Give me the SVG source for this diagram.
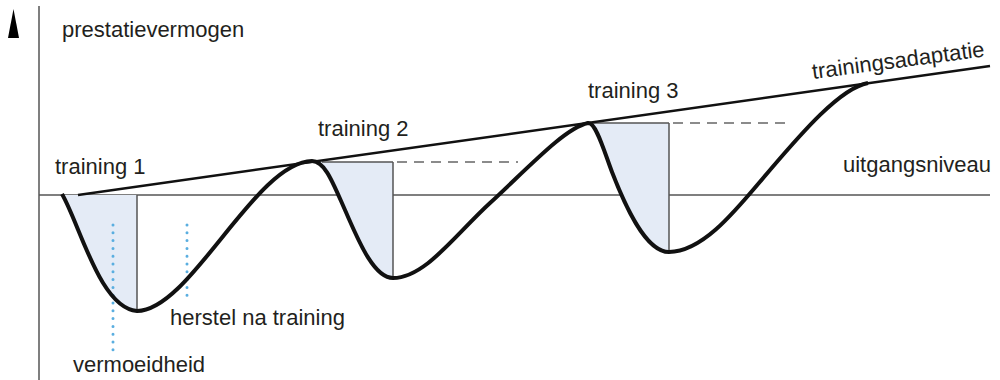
<svg xmlns="http://www.w3.org/2000/svg" width="1000" height="380" viewBox="0 0 1000 380">
<style>
text{font-family:"Liberation Sans",Arial,sans-serif;font-size:22px;fill:#231f20}
.axis{stroke:#555;stroke-width:1.5;fill:none}
.shade{fill:#e4ebf6;stroke:none}
.guide{stroke:#555;stroke-width:1.5;fill:none}
.dash{stroke:#666;stroke-width:1.5;stroke-dasharray:10 7;fill:none}
.dots{stroke:#5aaee0;stroke-width:3;stroke-linecap:round;stroke-dasharray:0 7.8;fill:none}
.curve{stroke:#111;stroke-width:4;fill:none;stroke-linejoin:round}
.adapt{stroke:#111;stroke-width:2.5;fill:none}
</style>
<rect width="1000" height="380" fill="#fff"/>
<g id="axes">
<polygon points="8,38 13.5,9 19,38" fill="#000"/>
<line class="axis" x1="39" y1="6" x2="39" y2="380"/>
<line class="axis" x1="39" y1="195" x2="990" y2="195"/>
</g>
<g id="shading">
<path class="shade" d="M62,195 C80,225 100,308 137,311 L137,195 Z"/>
<path class="shade" d="M312,162 C325,161 333,183 345,210 C357,237 373,278 393,278 L393,162 Z"/>
<path class="shade" d="M588,123 C596,122 604,151 612,172 C624,203 645,252 669,252 L669,123 Z"/>
</g>
<g id="guides">
<line class="guide" x1="137" y1="195" x2="137" y2="311"/>
<line class="guide" x1="393" y1="162" x2="393" y2="278"/>
<line class="guide" x1="669" y1="123" x2="669" y2="252"/>
<line class="guide" x1="322" y1="162" x2="393" y2="162"/>
<line class="guide" x1="592" y1="123" x2="669" y2="123"/>
<line class="dash" x1="397" y1="162" x2="518" y2="162"/>
<line class="dash" x1="673" y1="123" x2="792" y2="123"/>
<line class="dots" x1="113" y1="225" x2="113" y2="350"/>
<line class="dots" x1="187" y1="225" x2="187" y2="303"/>
</g>
<g id="connectors">
<path class="curve" d="M62,194 C80,225 100,308 137,311 C190,311 255,162 312,161 C325,161 333,183 345,210 C357,237 373,278 393,278 C425,278 455,235 490,203 C530,166 565,128 588,123 C596,122 604,151 612,172 C624,203 645,252 669,252 C705,252 740,205 770,170 C800,135 840,88 868,83"/>
<line class="adapt" x1="78" y1="195" x2="990" y2="66"/>
</g>
<g id="labels">
<text x="62" y="37">prestatievermogen</text>
<text x="55" y="174">training 1</text>
<text x="318" y="136">training 2</text>
<text x="588" y="98">training 3</text>
<text x="843" y="172">uitgangsniveau</text>
<text x="170" y="325">herstel na training</text>
<text x="73" y="372">vermoeidheid</text>
<text transform="translate(813,79) rotate(-7.5)">trainingsadaptatie</text>
</g>
</svg>
